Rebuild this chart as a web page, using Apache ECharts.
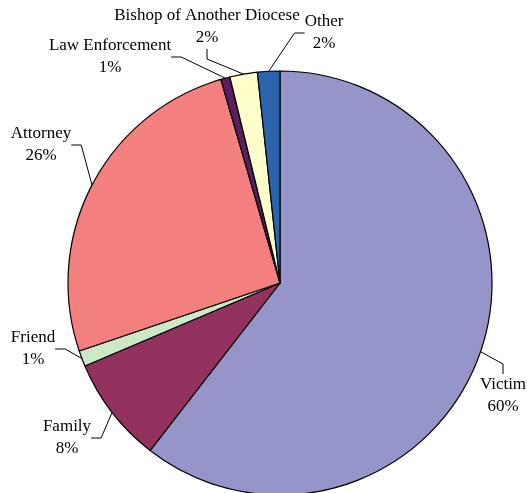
<!DOCTYPE html>
<html>
<head>
<meta charset="utf-8">
<script src="https://cdn.jsdelivr.net/npm/echarts@6/dist/echarts.min.js"></script>
<style>
  html, body { margin: 0; padding: 0; background: #fff; }
  #main { width: 527px; height: 493px; }
</style>
</head>
<body>
<div id="main"></div>
<script>
// slices, clockwise from 12 o'clock
var categories = ['Victim', 'Family', 'Friend', 'Attorney', 'Law Enforcement', 'Bishop of Another Diocese', 'Other'];
var shares = [60.5, 8.1, 1.2, 25.7, 0.7, 2.1, 1.7];
var colors = ['#9595c9', '#93325f', '#cce8c6', '#f37f7f', '#5b1e5e', '#ffffcc', '#2b63ae'];

// where each label block sits (text centre)
var labelPos = [[503, 396], [67, 438], [33, 349], [41, 145], [110, 57], [207, 27], [324, 33]];

var chart = echarts.init(document.getElementById('main'));

var pieData = [];
for (var i = 0; i < categories.length; i++) {
  pieData.push({ name: categories[i], value: shares[i], itemStyle: { color: colors[i] } });
}

chart.setOption({
  animation: false,
  series: [
    {
      type: 'pie',
      center: [280, 283],
      radius: [0, 212],
      startAngle: 90,
      clockwise: true,
      percentPrecision: 0,
      avoidLabelOverlap: false,
      itemStyle: { borderColor: '#000', borderWidth: 1.2 },
      label: {
        show: true,
        formatter: '{b}\n{d}%',
        color: '#000',
        fontFamily: 'Liberation Serif',
        fontSize: 17,
        lineHeight: 22,
        align: 'center'
      },
      labelLine: {
        show: true,
        length: 10,
        length2: 10,
        lineStyle: { color: '#000', width: 1 }
      },
      labelLayout: function (p) {
        var pos = labelPos[p.dataIndex];
        return { x: pos[0], y: pos[1], align: 'center', verticalAlign: 'middle' };
      },
      emphasis: { disabled: true },
      data: pieData
    }
  ]
});
</script>
</body>
</html>
